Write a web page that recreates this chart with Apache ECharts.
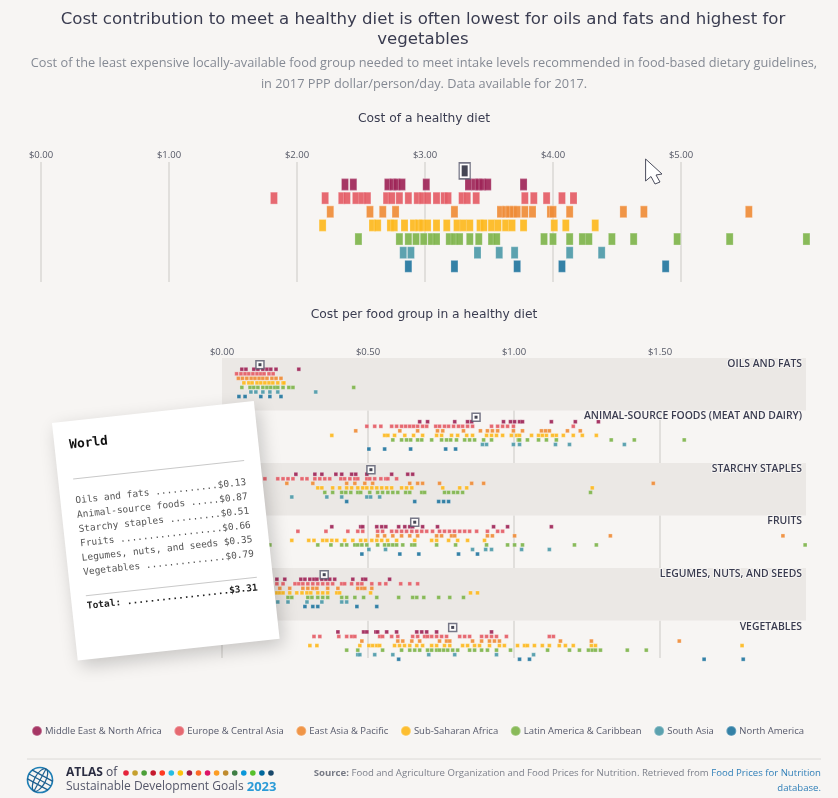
<!DOCTYPE html>
<html>
<head>
<meta charset="utf-8">
<style>
  html, body { margin: 0; padding: 0; background: #f7f5f3; }
  #chart { width: 838px; height: 798px; }
</style>
<script src="https://cdn.jsdelivr.net/npm/echarts@6/dist/echarts.min.js"></script>
</head>
<body>
<div id="chart"></div>
<script>
const regions = ['Middle East & North Africa', 'Europe & Central Asia', 'East Asia & Pacific', 'Sub-Saharan Africa', 'Latin America & Caribbean', 'South Asia', 'North America'];
const regionColors = ['#9e2558', '#e45c66', '#ef8c38', '#fdb81f', '#7fb44c', '#4e9aa9', '#23769f'];
const foodGroups = ['OILS AND FATS', 'ANIMAL-SOURCE FOODS (MEAT AND DAIRY)', 'STARCHY STAPLES', 'FRUITS', 'LEGUMES, NUTS, AND SEEDS', 'VEGETABLES'];
const receiptNames = ['Oils and fats', 'Animal-source foods', 'Starchy staples', 'Fruits', 'Legumes, nuts, and seeds', 'Vegetables'];

// world figures (receipt + black markers)
const worldGroups = [0.13, 0.87, 0.51, 0.66, 0.35, 0.79];
const worldTotal = 3.31;

// total cost of a healthy diet, per region
const totalMena = [2.375, 2.44, 2.71, 2.75, 2.78, 2.82, 3.01, 3.34, 3.39, 3.42, 3.45, 3.49, 3.77];
const totalEca = [1.82, 2.22, 2.35, 2.39, 2.46, 2.51, 2.55, 2.70, 2.74, 2.80, 2.87, 2.94, 2.98, 3.02, 3.09, 3.15, 3.18, 3.29, 3.33, 3.40, 3.78, 3.85, 3.95, 4.07, 4.16];
const totalEap = [2.26, 2.57, 2.67, 2.77, 3.23, 3.59, 3.63, 3.66, 3.69, 3.72, 3.78, 3.84, 3.98, 4.00, 4.13, 4.55, 4.71, 5.53];
const totalSsa = [2.20, 2.59, 2.63, 2.73, 2.76, 2.84, 2.91, 2.95, 2.98, 3.02, 3.09, 3.17, 3.25, 3.30, 3.35, 3.43, 3.46, 3.52, 3.57, 3.63, 3.68, 3.77, 4.01, 4.10, 4.33];
const totalLac = [2.48, 2.80, 2.87, 2.93, 2.99, 3.05, 3.09, 3.19, 3.23, 3.27, 3.35, 3.42, 3.52, 3.56, 3.93, 4.00, 4.13, 4.23, 4.28, 4.46, 4.63, 4.97, 5.38, 5.98];
const totalSa = [2.83, 2.89, 3.41, 3.58, 3.70, 4.13, 4.38];
const totalNa = [2.87, 3.23, 3.72, 4.07, 4.88];
const totals = [totalMena, totalEca, totalEap, totalSsa, totalLac, totalSa, totalNa];

// cost per food group, each list is [mena, eca, eap, ssa, lac, sa, na]
const oils = [
  [.068, .082, .109, .123, .14, .154, .167, .185, .263],
  [.05, .065, .079, .092, .106, .12, .133, .144, .161, .175],
  [.056, .07, .085, .1, .113, .127, .14, .154, .171, .185, .202],
  [.075, .092, .103, .12, .133, .147, .161, .174, .191, .209, .212],
  [.068, .096, .109, .123, .14, .154, .167, .181, .191, .209, .229, .243, .451],
  [.099, .116, .14, .164, .191, .321],
  [.058, .079, .133, .164, .202]
];
const animal = [
  [.677, .704, .797, .841, .855, .964, .988, 1.002, 1.019, 1.029, 1.128, 1.21, 1.289],
  [.496, .523, .544, .581, .598, .615, .629, .643, .656, .67, .687, .701, .732, .745, .762, .776, .793, .81, .824, .841, .858, .923, .944, .961, .978, .998, 1.203],
  [.458, .609, .67, .738, .756, .827, .885, .909, .926, .944, .998, 1.029, 1.094, 1.108, 1.121, 1.183, 1.227],
  [.376, .557, .568, .591, .626, .656, .687, .735, .752, .786, .807, .838, .858, .906, .923, .94, .961, .991, 1.009, 1.019, 1.06, 1.084, 1.097, 1.111, 1.132, 1.145, 1.169, 1.203, 1.234, 1.282],
  [.585, .615, .632, .646, .67, .684, .718, .752, .769, .783, .803, .831, .848, .865, .896, .923, 1.015, 1.019, 1.046, 1.084, 1.111, 1.145, 1.333, 1.412, 1.583],
  [.892, .906, .998, 1.019, 1.142, 1.19, 1.378],
  [.503, .557, .646, .766, .8]
];
const starchy = [
  [.253, .318, .342, .39, .41, .444, .458, .496, .581, .636, .653],
  [.147, .191, .209, .226, .243, .274, .291, .318, .335, .352, .369, .407, .42, .438, .455, .465, .496, .506, .523, .544, .561, .568, .598],
  [.222, .311, .427, .455, .489, .516, .643, .67, .687, .745, .855, .896, 1.477],
  [.328, .342, .379, .403, .427, .444, .465, .482, .496, .513, .53, .547, .564, .581, .615, .632, .65, .756, .814, .838, 1.268],
  [.352, .379, .41, .424, .441, .465, .475, .506, .533, .55, .568, .585, .602, .629, .643, .684, .694, .762, .776, .793, .807, .824, 1.262],
  [.239, .359, .41, .496, .509, .54],
  [.427, .66, .742, .759, .776]
];
const fruits = [
  [.376, .475, .482, .53, .547, .561, .605, .626, .643, .653, .687, .738, .93, .978, 1.128],
  [.26, .356, .431, .465, .482, .533, .55, .581, .598, .615, .632, .65, .667, .684, .701, .721, .745, .762, .779, .796, .814, .831, .848, .872, .909, .944, .961],
  [.533, .557, .585, .615, .643, .67, .735, .752, .786, .797, .909, .926, 1.002, 1.33, 1.921],
  [.239, .297, .315, .345, .359, .376, .393, .42, .448, .475, .492, .513, .53, .547, .567, .598, .66, .718, .735, .776, .807, .841, .899],
  [.164, .328, .373, .41, .427, .455, .465, .479, .496, .533, .557, .571, .585, .598, .619, .65, .66, .735, .8, .906, .978, 1.002, 1.029, 1.207, 1.282, 1.997],
  [.503, .56, .858, .903, .923, 1.026, 1.121],
  [.479, .609, .674, .81, .875]
];
const legumes = [
  [.188, .215, .27, .284, .301, .315, .325, .342, .356, .369, .386, .448, .482, .492, .574],
  [.188, .209, .25, .263, .277, .294, .311, .328, .345, .362, .379, .41, .42, .444, .465, .479, .513, .54, .561, .612, .643, .67],
  [.198, .232, .277, .294, .311, .325, .362, .397, .465, .479, .489, .513],
  [.188, .198, .209, .232, .256, .274, .291, .304, .328, .345, .362, .393, .403, .509, .851, .875],
  [.226, .239, .294, .308, .328, .345, .362, .41, .427, .455, .485, .53, .605, .653, .667, .691, .742, .78, .827],
  [.191, .226, .291, .342, .41, .427],
  [.284, .311, .328, .462, .53]
];
const vegetables = [
  [.397, .485, .496, .527, .533, .564, .598, .667, .684, .701, .735, .923],
  [.315, .335, .4, .427, .444, .455, .54, .55, .581, .602, .653, .67, .694, .704, .718, .735, .752, .769, .814, .831, .848, .889, .906, .923, .94, .974, 1.121, 1.135],
  [.479, .602, .619, .65, .677, .745, .769, .78, .858, .889, .916, .933, .95, 1.159, 1.265, 1.566],
  [.301, .325, .472, .503, .516, .53, .54, .591, .608, .625, .643, .667, .687, .718, .735, .762, .78, .824, .841, .865, .882, .916, .95, .967, 1.012, 1.036, 1.046, 1.07, 1.097, 1.121, 1.155, 1.176, 1.203, 1.265, 1.279, 1.781],
  [.427, .465, .55, .615, .643, .66, .677, .704, .718, .735, .745, .759, .773, .79, .807, .848, .865, .889, .909, .94, .988, 1.115, 1.19, 1.224, 1.255, 1.268, 1.279, 1.296, 1.388, 1.453],
  [.465, .472, .523, .585, .708, .797, .94, 1.067],
  [.605, 1.019, 1.053, 1.651, 1.785]
];
const groupValues = [oils, animal, starchy, fruits, legumes, vegetables];

const topTicks = 1;
const lowTicks = 0.5;
const panelTops = [358, 410.5, 463, 515.5, 568, 620.7];
const panelHeights = [52.5, 52.5, 52.5, 52.5, 52.5, 37.3];
const rowPx = 4.55;
const ink = '#3a3c50';
const gridLine = '#e1dfdc';
const mono = '"DejaVu Sans Mono", monospace';
const sans = '"Open Sans", sans-serif';
const wide = '"DejaVu Sans", sans-serif';

const grids = [{ left: 41, top: 162, width: 768, height: 120, show: false }];
const xAxes = [{
  type: 'value', gridIndex: 0, position: 'top', min: 0, max: 6, interval: topTicks,
  axisLine: { show: false }, axisTick: { show: false },
  axisLabel: { show: true, showMaxLabel: false, margin: 2, color: '#555866', fontFamily: sans, fontSize: 9.5, formatter: v => '$' + v.toFixed(2) },
  splitLine: { show: true, showMaxLine: false, lineStyle: { color: gridLine, width: 2 } }
}];
const yAxes = [{ type: 'value', gridIndex: 0, inverse: true, min: -0.65, max: 8.15, show: false }];

panelTops.forEach((top, p) => {
  const banded = p % 2 === 0;
  grids.push({ left: 222, top: top, width: 584, height: panelHeights[p], show: banded, backgroundColor: '#ebe8e5', borderWidth: 0 });
  xAxes.push({
    type: 'value', gridIndex: p + 1, position: 'top', min: 0, max: 2, interval: lowTicks,
    axisLine: { show: false }, axisTick: { show: false },
    axisLabel: { show: p === 0, showMaxLabel: false, margin: 1, color: '#555866', fontFamily: sans, fontSize: 9.5, formatter: v => '$' + v.toFixed(2) },
    splitLine: { show: !banded, showMaxLine: false, lineStyle: { color: gridLine, width: 2 } }
  });
  yAxes.push({ type: 'value', gridIndex: p + 1, inverse: true, min: -1.47, max: panelHeights[p] / rowPx - 1.47, show: false });
});

const series = [];
regions.forEach((name, r) => {
  series.push({
    name: name, type: 'scatter', xAxisIndex: 0, yAxisIndex: 0, clip: false, silent: true,
    symbol: 'rect', symbolSize: [7, 12],
    itemStyle: { color: regionColors[r], opacity: 0.92, borderColor: 'rgba(255,255,255,0.3)', borderWidth: 1 },
    data: totals[r].map(v => [v, r + 1])
  });
  groupValues.forEach((group, p) => {
    series.push({
      name: name, type: 'scatter', xAxisIndex: p + 1, yAxisIndex: p + 1, clip: false, silent: true,
      symbol: 'rect', symbolSize: 3.8,
      itemStyle: { color: regionColors[r], opacity: 0.92, borderColor: 'rgba(255,255,255,0.45)', borderWidth: 0.6 },
      data: group[r].map(v => [v, r + 1])
    });
  });
});

// world marker: dark square in a white outlined box
function worldMarker(xi, value, row, outer, inner) {
  series.push({
    name: 'World', type: 'scatter', xAxisIndex: xi, yAxisIndex: xi, clip: false, silent: true, z: 5,
    symbol: 'rect', symbolSize: outer,
    itemStyle: { color: '#ffffff', borderColor: '#55566a', borderWidth: 1.5 },
    data: [[value, row]]
  });
  series.push({
    name: 'World', type: 'scatter', xAxisIndex: xi, yAxisIndex: xi, clip: false, silent: true, z: 6,
    symbol: 'rect', symbolSize: inner,
    itemStyle: { color: '#16182a' },
    data: [[value, row]]
  });
}
worldMarker(0, worldTotal, 0, [11, 16], [6, 11]);
worldGroups.forEach((v, p) => worldMarker(p + 1, v, 0, 8, 3));

const titles = [
  { text: 'Cost contribution to meet a healthy diet is often lowest for oils and fats and highest for\nvegetables', left: 423, top: 10, textAlign: 'center', padding: 0, textStyle: { fontFamily: wide, fontSize: 16.6, fontWeight: 400, color: ink, lineHeight: 20 } },
  { text: 'Cost of the least expensive locally-available food group needed to meet intake levels recommended in food-based dietary guidelines,\nin 2017 PPP dollar/person/day. Data available for 2017.', left: 424, top: 53, textAlign: 'center', padding: 0, textStyle: { fontFamily: sans, fontSize: 12.75, fontWeight: 400, color: '#858a94', lineHeight: 21 } },
  { text: 'Cost of a healthy diet', left: 424, top: 113, textAlign: 'center', padding: 0, textStyle: { fontFamily: wide, fontSize: 12.3, fontWeight: 400, color: ink } },
  { text: 'Cost per food group in a healthy diet', left: 424, top: 309, textAlign: 'center', padding: 0, textStyle: { fontFamily: wide, fontSize: 12.3, fontWeight: 400, color: ink } }
];
foodGroups.forEach((label, p) => {
  titles.push({
    text: label, right: 34, top: panelTops[p] + 1, padding: 0,
    textStyle: { fontFamily: sans, fontSize: 10.4, fontWeight: 600, color: ink, textBorderColor: '#f7f5f3', textBorderWidth: 2 }
  });
});

// receipt card
const dotted = (label, value, width) => {
  const money = '$' + value.toFixed(2);
  const gap = width - label.length - money.length - 1;
  return label + ' ' + '.'.repeat(gap) + money;
};
const onTop = { zlevel: 2, z: 100 };
const cardChildren = [
  { type: 'rect', ...onTop, shape: { x: 0, y: 0, width: 203, height: 239 }, style: { fill: '#ffffff', shadowBlur: 18, shadowColor: 'rgba(0,0,0,0.2)', shadowOffsetX: 4, shadowOffsetY: 6 } },
  { type: 'text', ...onTop, x: 15, y: 24, style: { text: 'World', font: 'bold 12.8px ' + mono, fill: '#111', verticalAlign: 'middle' } },
  { type: 'line', ...onTop, shape: { x1: 15, y1: 58, x2: 187, y2: 58 }, style: { stroke: '#c9c9c9', lineWidth: 1 } },
  { type: 'line', ...onTop, shape: { x1: 15, y1: 175.5, x2: 187, y2: 175.5 }, style: { stroke: '#c9c9c9', lineWidth: 1 } },
  { type: 'text', ...onTop, x: 15, y: 186, style: { text: dotted('Total:', worldTotal, 30), font: 'bold 9.5px ' + mono, fill: '#222', verticalAlign: 'middle' } }
];
receiptNames.forEach((label, i) => {
  cardChildren.push({ type: 'text', ...onTop, x: 15, y: 80 + i * 14.4, style: { text: dotted(label, worldGroups[i], 30), font: '9.5px ' + mono, fill: '#555', verticalAlign: 'middle' } });
});

// footer logo
const sdgColors = ['#e5243b', '#c5a02e', '#4c9f38', '#c5192d', '#ff3a21', '#26bde2', '#fcc30b', '#a21942', '#fd6925', '#dd1367', '#fd9d24', '#bf8b2e', '#3f7e44', '#0a97d9', '#56c02b', '#00689d', '#19486a'];
const logo = [
  { type: 'circle', shape: { cx: 40, cy: 780, r: 12.5 }, style: { fill: 'none', stroke: '#1f7fb5', lineWidth: 1.6 } },
  { type: 'group', x: 40, y: 780, rotation: -0.5, children: [
    { type: 'ellipse', shape: { cx: 0, cy: 0, rx: 5.5, ry: 12.5 }, style: { fill: 'none', stroke: '#1d5f8f', lineWidth: 1.2 } },
    { type: 'line', shape: { x1: 0, y1: -12.5, x2: 0, y2: 12.5 }, style: { stroke: '#1d5f8f', lineWidth: 1.2 } },
    { type: 'line', shape: { x1: -12, y1: -5, x2: 12, y2: -5 }, style: { stroke: '#1d5f8f', lineWidth: 1.2 } },
    { type: 'line', shape: { x1: -12.5, y1: 0, x2: 12.5, y2: 0 }, style: { stroke: '#1d5f8f', lineWidth: 1.2 } },
    { type: 'line', shape: { x1: -12, y1: 5, x2: 12, y2: 5 }, style: { stroke: '#1d5f8f', lineWidth: 1.2 } }
  ] },
  { type: 'text', x: 66, y: 773, style: { text: '{b|ATLAS} of', rich: { b: { font: 'bold 12px ' + sans, fill: '#2b2d42' } }, font: '12px ' + sans, fill: '#44465a', verticalAlign: 'middle' } },
  { type: 'text', x: 66, y: 787, style: { text: 'Sustainable Development Goals {y|2023}', rich: { y: { font: 'bold 13px ' + sans, fill: '#2b9bd7' } }, font: '12px ' + sans, fill: '#55576a', verticalAlign: 'middle' } }
];
sdgColors.forEach((c, i) => {
  logo.push({ type: 'circle', shape: { cx: 126 + i * 9.06, cy: 773, r: 2.8 }, style: { fill: c } });
});

const graphics = [
  { type: 'line', z: 1, shape: { x1: 27, y1: 759, x2: 821, y2: 759 }, style: { stroke: '#dcdad7', lineWidth: 1 } },
  { type: 'text', x: 821, y: 773, style: { text: '{g|Source:} Food and Agriculture Organization and Food Prices for Nutrition. Retrieved from {l|Food Prices for Nutrition}', rich: { g: { font: 'bold 9.6px ' + sans, fill: '#777a85' }, l: { font: '9.6px ' + sans, fill: '#2f7fb8' } }, font: '9.6px ' + sans, fill: '#7d808b', align: 'right', verticalAlign: 'middle' } },
  { type: 'text', x: 821, y: 788, style: { text: 'database.', font: '9.6px ' + sans, fill: '#2f7fb8', align: 'right', verticalAlign: 'middle' } },
  { type: 'group', x: 52, y: 423, rotation: 0.108, ...onTop, children: cardChildren },
  { type: 'polygon', ...onTop, shape: { points: [[645.6, 159], [645.6, 181], [651, 176.5], [655, 184], [660, 182], [656, 175], [662, 174]] }, style: { fill: '#ffffff', stroke: '#4a4c5c', lineWidth: 1 } }
].concat(logo);

const chart = echarts.init(document.getElementById('chart'), null, { renderer: 'canvas' });
chart.setOption({
  animation: false,
  backgroundColor: '#f7f5f3',
  title: titles,
  legend: {
    data: regions, left: 31, top: 725, padding: 0, itemWidth: 10, itemHeight: 10, itemGap: 11.5, icon: 'circle',
    selectedMode: false,
    textStyle: { fontFamily: sans, fontSize: 9.5, color: '#55586a', padding: [0, 0, 0, -2] }
  },
  grid: grids,
  xAxis: xAxes,
  yAxis: yAxes,
  series: series,
  graphic: graphics
});
</script>
</body>
</html>
